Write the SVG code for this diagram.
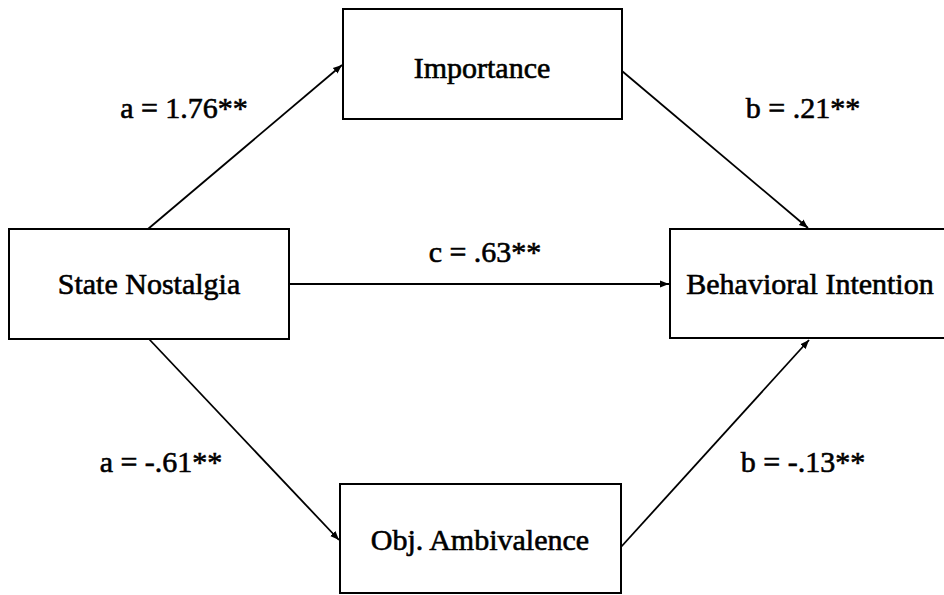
<svg xmlns="http://www.w3.org/2000/svg" width="944" height="595" viewBox="0 0 944 595">
<defs>
<marker id="ah" viewBox="0 0 10 10" refX="10" refY="5" markerWidth="5" markerHeight="5" orient="auto" markerUnits="strokeWidth">
<path d="M0,1 L10,5 L0,9 z" fill="#000"/>
</marker>
</defs>
<rect width="944" height="595" fill="#fff"/>
<g id="connectors" stroke="#000" stroke-width="1.8" fill="none" marker-end="url(#ah)">
<line x1="148" y1="229" x2="342" y2="65"/>
<line x1="622" y1="71" x2="808" y2="228"/>
<line x1="289" y1="284" x2="669" y2="284"/>
<line x1="149" y1="339" x2="339" y2="540"/>
<line x1="621" y1="547" x2="809" y2="340"/>
</g>
<g id="labels" font-family="Liberation Serif" font-size="30" text-anchor="middle" fill="#000" stroke="#000" stroke-width="0.6">
<text x="184" y="118">a = 1.76**</text>
<text x="803" y="118">b = .21**</text>
<text x="485" y="262">c = .63**</text>
<text x="161" y="472">a = -.61**</text>
<text x="803" y="472">b = -.13**</text>
</g>
<g id="importance">
<rect x="343" y="9" width="279" height="110" fill="#fff" stroke="#000" stroke-width="2"/>
<text x="482" y="78" font-family="Liberation Serif" font-size="30" text-anchor="middle" stroke="#000" stroke-width="0.6">Importance</text>
</g>
<g id="state-nostalgia">
<rect x="9" y="229" width="280" height="110" fill="#fff" stroke="#000" stroke-width="2"/>
<text x="149" y="294" font-family="Liberation Serif" font-size="30" text-anchor="middle" stroke="#000" stroke-width="0.6">State Nostalgia</text>
</g>
<g id="behavioral-intention">
<rect x="670" y="229" width="290" height="109" fill="#fff" stroke="#000" stroke-width="2"/>
<text x="810" y="294" font-family="Liberation Serif" font-size="30" text-anchor="middle" stroke="#000" stroke-width="0.6">Behavioral Intention</text>
</g>
<g id="obj-ambivalence">
<rect x="340" y="484" width="281" height="109" fill="#fff" stroke="#000" stroke-width="2"/>
<text x="480" y="550" font-family="Liberation Serif" font-size="30" text-anchor="middle" stroke="#000" stroke-width="0.6">Obj. Ambivalence</text>
</g>
</svg>
